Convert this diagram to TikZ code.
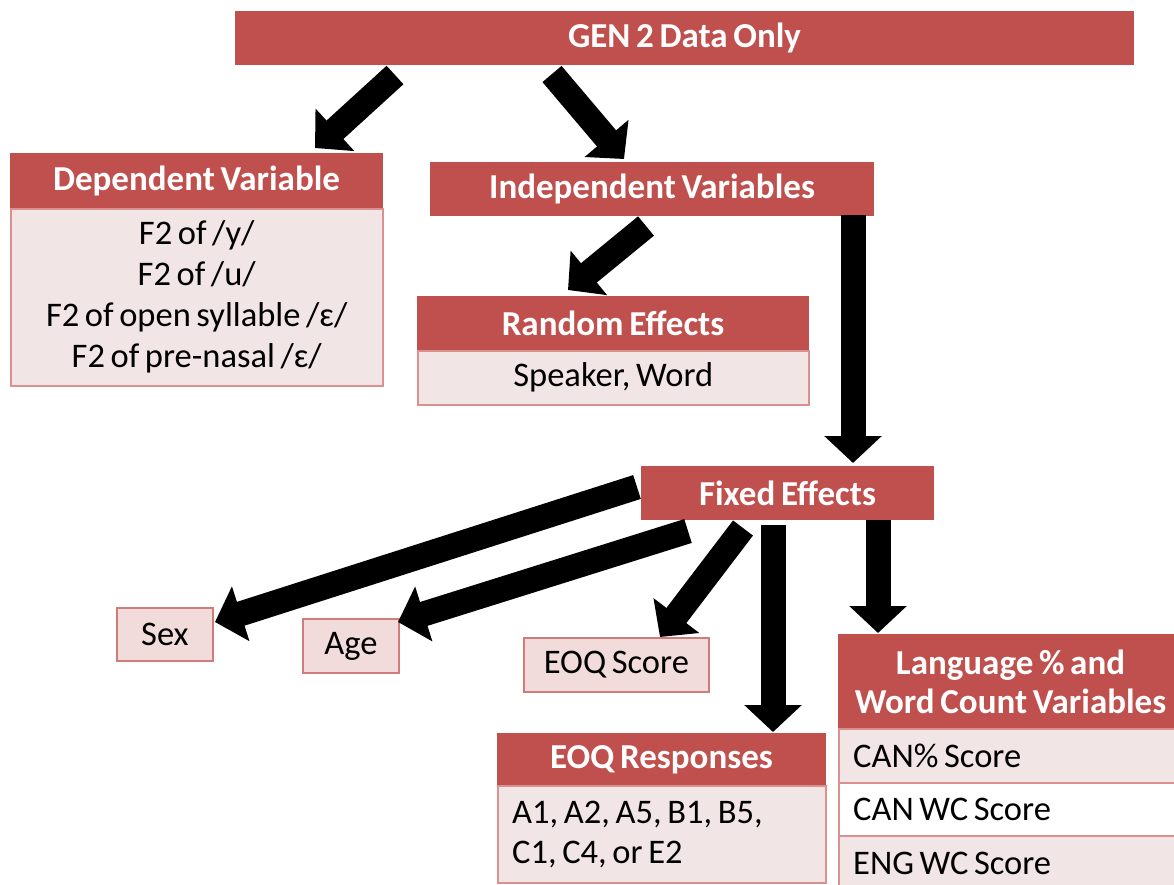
\documentclass[tikz,border=0pt]{standalone}
\usepackage{fontspec}
\setmainfont{Carlito}[WordSpace=0.72]
\usetikzlibrary{arrows.meta}
\definecolor{hdr}{HTML}{C0504D}
\definecolor{rowpink}{HTML}{F2E5E5}
\definecolor{boxpink}{HTML}{F2DCDB}
\definecolor{rowline}{HTML}{D9908E}
\begin{document}
\begin{tikzpicture}[x=1pt,y=-1pt,
  hdrbox/.style={fill=hdr, draw=hdr, line width=1pt, inner sep=0pt, anchor=north west,
    text=white, font=\bfseries\fontsize{35}{39}\selectfont, align=center},
  bodybox/.style={fill=rowpink, draw=rowline, line width=1.5pt, inner sep=0pt, anchor=north west,
    text=black, font=\fontsize{34.5}{41}\selectfont, align=center},
  lefttext/.style={inner sep=0pt, anchor=west, text=black,
    font=\fontsize{34.5}{40}\selectfont, align=left},
  smallbox/.style={fill=boxpink, draw=hdr!75!white, line width=1.8pt, inner sep=0pt, anchor=north west,
    text=black, font=\fontsize{34.5}{40}\selectfont},
  bigarrow/.style={line width=25pt, draw=black, -{Triangle[length=27pt,width=56pt]}}]
\useasboundingbox (0,0) rectangle (1174,884);
\clip (0,0) rectangle (1174,884);

% top
\node[hdrbox, minimum width=898pt, minimum height=53pt] (gen) at (235,11) {GEN 2 Data Only};

% dependent
\node[hdrbox, minimum width=372pt, minimum height=55pt] (dephdr) at (10,153) {Dependent Variable};
\node[bodybox, minimum width=372pt, minimum height=177pt] (depbody) at (10,208)
  {F2 of /y/\\F2 of /u/\\F2 of open syllable /ɛ/\\F2 of pre-nasal /ɛ/};

% independent
\node[hdrbox, minimum width=443pt, minimum height=53pt] (indep) at (430,162) {Independent Variables};

% random
\node[hdrbox, minimum width=391pt, minimum height=54pt] (randhdr) at (417,296) {Random Effects};
\node[bodybox, minimum width=391pt, minimum height=54pt] (randbody) at (417,350) {Speaker, Word};

% fixed
\node[hdrbox, minimum width=292pt, minimum height=53pt] (fixed) at (641,466) {Fixed Effects};

% small boxes
\node[smallbox, minimum width=96pt, minimum height=53pt] (sex) at (116,607) {Sex};
\node[smallbox, minimum width=96pt, minimum height=54pt] (age) at (302,618) {Age};
\node[smallbox, minimum width=185pt, minimum height=54pt] (eoqs) at (523,637) {EOQ Score};

% EOQ responses
\node[hdrbox, minimum width=328pt, minimum height=52pt] (eoqrhdr) at (497,733) {EOQ Responses};
\node[bodybox, minimum width=328pt, minimum height=97pt] (eoqrbody) at (497,785) {};
\node[lefttext] (eoqrtext) at ([xshift=15pt]eoqrbody.west) {A1, A2, A5, B1, B5,\\C1, C4, or E2};

% language
\node[hdrbox, minimum width=344pt, minimum height=94pt] (langhdr) at (838,634)
  {Language \% and\\Word Count Variables};
\node[bodybox, minimum width=344pt, minimum height=54pt] (row1) at (838,728) {};
\node[bodybox, fill=white, minimum width=344pt, minimum height=53pt] (row2) at (838,782) {};
\node[bodybox, minimum width=344pt, minimum height=55pt] (row3) at (838,835) {};
\node[lefttext] (row1t) at ([xshift=15pt]row1.west) {CAN\% Score};
\node[lefttext] (row2t) at ([xshift=15pt]row2.west) {CAN WC Score};
\node[lefttext] (row3t) at ([xshift=15pt]row3.west) {ENG WC Score};

% arrow end points
\coordinate (a1s) at (395,75);  \coordinate (a1e) at (315,148);
\coordinate (a2s) at (552,74);  \coordinate (a2e) at (624,159);
\coordinate (a3s) at (646,226); \coordinate (a3e) at (568,290);
\coordinate (a4s) at (853,215); \coordinate (a4e) at (853,463);
\coordinate (a5s) at (637,487); \coordinate (a5e) at (215,622);
\coordinate (a6s) at (688,531); \coordinate (a6e) at (398,622);
\coordinate (a7s) at (743,528); \coordinate (a7e) at (660,637);
\coordinate (a8s) at (773,525); \coordinate (a8e) at (773,732);
\coordinate (a9s) at (878,520); \coordinate (a9e) at (878,633);

\foreach \i in {1,...,9} {\draw[bigarrow] (a\i s) -- (a\i e);}
\end{tikzpicture}
\end{document}
